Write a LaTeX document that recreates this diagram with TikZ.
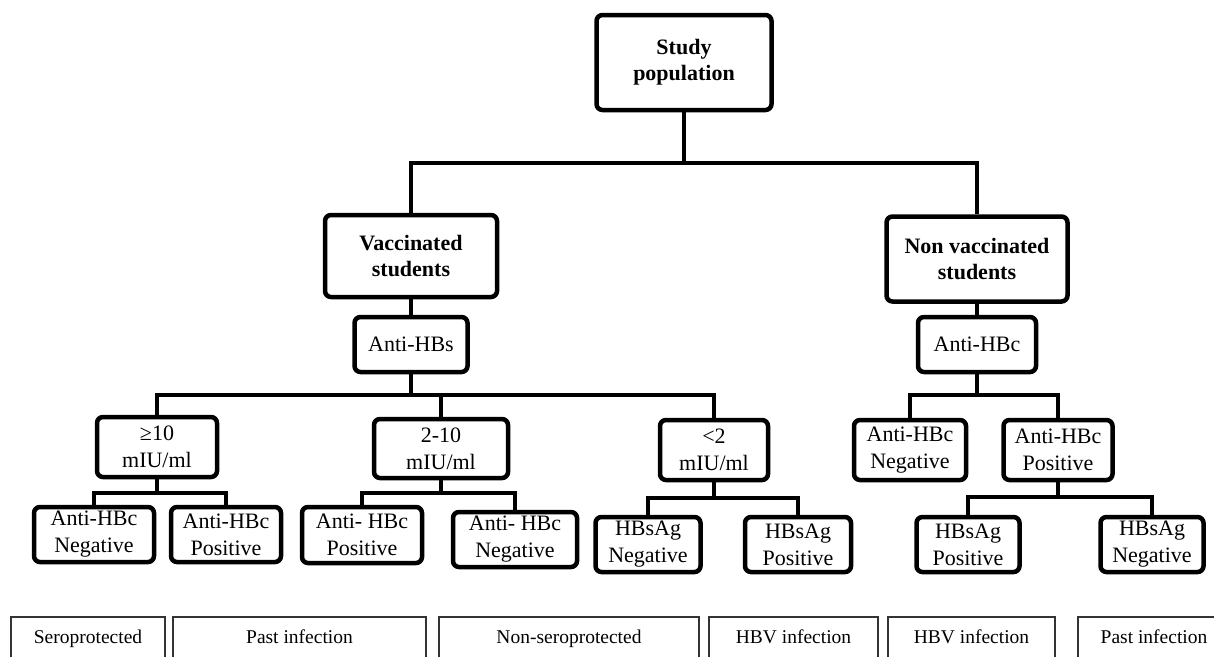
\documentclass[tikz,border=0pt]{standalone}
\usepackage{fontspec}
\setmainfont{Liberation Serif}
\usepackage{tikz}
\tikzstyle{mainbox}=[draw, line width=4.5pt, rounded corners=6pt, align=center, inner sep=0pt, font=\bfseries\fontsize{22}{26}\selectfont]
\tikzstyle{testbox}=[draw, line width=4.5pt, rounded corners=6pt, align=center, inner sep=0pt, font=\fontsize{22}{27}\selectfont]
\tikzstyle{outbox}=[draw=black!80, line width=1.5pt, align=center, inner sep=0pt, minimum height=44pt, text height=14pt, text depth=4.5pt, font=\fontsize{19.5}{22}\selectfont]
\tikzstyle{branch}=[draw, line width=4.5pt]

\newcommand{\miu}{mIU/ml}

\begin{document}
\begin{tikzpicture}[x=1pt, y=-1pt]
    \useasboundingbox (0,0) rectangle (1214,656);

    % groups on top
    \foreach \pos/\name/\bw/\bh/\txt in {
                            {(684,62.5)/study/175/95/{Study\\population}},
                            {(411,256)/vacc/172/82/{Vaccinated\\students}},
                            {(977,259)/nonvacc/181/85/{Non vaccinated\\students}}}
        \node[mainbox, minimum width=\bw pt, minimum height=\bh pt] (\name) at \pos {\txt};

    % tests and results
    \foreach \pos/\name/\bw/\bh/\txt in {
                            {(411,344.5)/antihbs/113/55/Anti-HBs},
                            {(977,344.5)/antihbc/118/55/Anti-HBc},
                            {(157,447)/ge10/120/60/{≥10\\\miu}},
                            {(441,448.5)/mid/134/59/{2-10\\\miu}},
                            {(714,450)/lt2/108/60/{<2\\\miu}},
                            {(910,450)/rneg/112/60/{Anti-HBc\\Negative}},
                            {(1058,450)/rpos/109/60/{Anti-HBc\\Positive}},
                            {(94,534.5)/aneg/120/55/{Anti-HBc\\Negative}},
                            {(226,534.5)/apos/110/55/{Anti-HBc\\Positive}},
                            {(362,535)/bpos/120/56/{Anti- HBc\\Positive}},
                            {(515,539.5)/bneg/124/55/{Anti- HBc\\Negative}},
                            {(648,544.5)/cneg/105/55/{HBsAg\\Negative}},
                            {(798,544.5)/cpos/106/55/{HBsAg\\Positive}},
                            {(968,544.5)/dpos/103/55/{HBsAg\\Positive}},
                            {(1152,544.5)/dneg/103/55/{HBsAg\\Negative}}}
        \node[testbox, minimum width=\bw pt, minimum height=\bh pt] (\name) at \pos {\txt};

    % outcomes
    \foreach \x/\bw/\name/\txt in {
                            88/154/sero/Seroprotected,
                            299.5/253/pastA/Past infection,
                            569/260/nonsero/Non-seroprotected,
                            793.5/169/hbvA/HBV infection,
                            971.5/167/hbvB/HBV infection,
                            1154/152/pastB/Past infection}
        \node[outbox, minimum width=\bw pt] (\name) at (\x,639) {\txt};

    % branch points
    \foreach \name/\x/\y in {study/684/163, antihbs/411/395, antihbc/977/395,
                             ge10/157/493, mid/441/493, lt2/714/498, rpos/1058/497}
        \coordinate (j\name) at (\x,\y);

    % Connect boxes
    \path[branch] (vacc) -- (antihbs);
    \path[branch] (nonvacc) -- (antihbc);
    \foreach \source/\dest in {study/vacc, study/nonvacc,
                               antihbs/ge10, antihbs/mid, antihbs/lt2,
                               antihbc/rneg, antihbc/rpos,
                               ge10/aneg, ge10/apos, mid/bpos, mid/bneg,
                               lt2/cneg, lt2/cpos, rpos/dpos, rpos/dneg}
        \path[branch] (\source.south) |- (j\source) -| (\dest.north);

\end{tikzpicture}
\end{document}
